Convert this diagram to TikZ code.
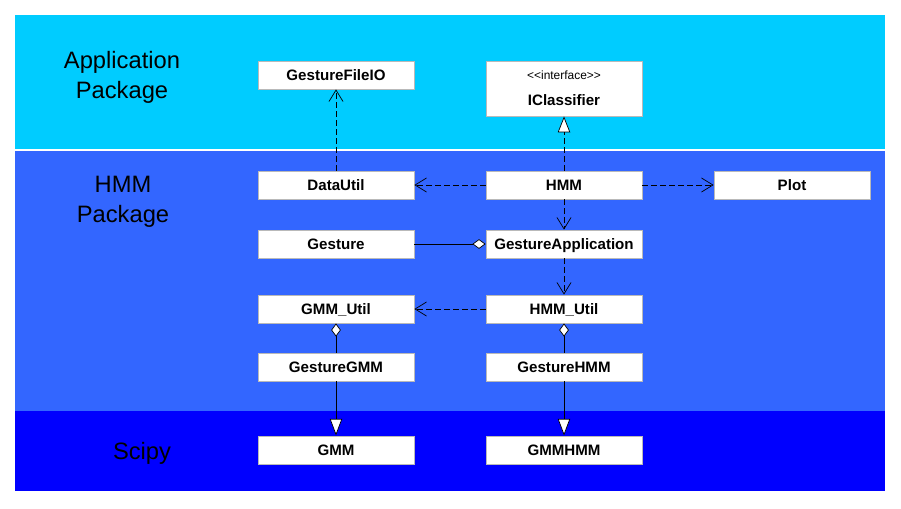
\documentclass[tikz,border=0pt]{standalone}
\usepackage{fontspec}
\setmainfont{Liberation Sans}
\usetikzlibrary{arrows.meta}
\definecolor{apppkg}{HTML}{00CCFF}
\definecolor{hmmpkg}{HTML}{3366FF}
\definecolor{scipypkg}{HTML}{0000FF}

\begin{document}
\begin{tikzpicture}[x=0.02cm,y=-0.02cm,
    cls/.style={fill=white,draw=gray!55,line width=0.5pt,inner sep=0pt,
      minimum width=3.12cm,minimum height=0.56cm,
      text height=6.2pt,text depth=0pt,
      font=\fontsize{8.6}{10}\selectfont\bfseries},
    pkg/.style={align=center,font=\fontsize{13.5}{17}\selectfont},
    dep/.style={dash pattern=on 3.4pt off 1.7pt,
      -{Straight Barb[length=6.5pt,width=8pt]}},
    real/.style={dash pattern=on 3.4pt off 1.7pt,
      -{Triangle[fill=white,length=9pt,width=7pt]}},
    inh/.style={-{Triangle[fill=white,length=9.5pt,width=7pt]}},
    agg/.style={{Diamond[fill=white,length=7.5pt,width=5.5pt]}-}]
    \useasboundingbox (0,0) rectangle (901,508);

    % package bands
    \fill[apppkg] (15,15) rectangle (885,149);
    \fill[hmmpkg] (15,151) rectangle (885,411);
    \fill[scipypkg] (15,411) rectangle (885,491);

    \path
    (122,77) node[pkg] (app) {Application\\Package}
    (123,202) node[pkg] (hmmpk) {HMM\\Package}
    (142,453) node[pkg] (scipy) {Scipy}
    ;

    \path
    (336,75) node[cls] (fileio) {GestureFileIO}
    (564,88.5) node[cls,minimum height=1.1cm,align=center,
      text height=,text depth=] (iclass)
      {{\fontsize{6.8}{8}\selectfont\mdseries
        <\kern0pt<interface>\kern0pt>}\\[5pt]IClassifier}
    (336,185) node[cls] (datautil) {DataUtil}
    (564,185) node[cls] (hmm) {HMM}
    (792,185) node[cls] (plot) {Plot}
    (336,244) node[cls] (gesture) {Gesture}
    (564,244) node[cls] (gapp) {GestureApplication}
    (336,309) node[cls] (gmmutil) {GMM\_Util}
    (564,309) node[cls] (hmmutil) {HMM\_Util}
    (336,367) node[cls] (ggmm) {GestureGMM}
    (564,367) node[cls] (ghmm) {GestureHMM}
    (336,450) node[cls] (gmm) {GMM}
    (564,450) node[cls] (gmmhmm) {GMMHMM}
    ;

    \draw[dep] (datautil) -- (fileio);
    \draw[real] (hmm) -- (iclass);
    \draw[dep] (hmm) -- (datautil);
    \draw[dep] (hmm) -- (plot);
    \draw[dep] (hmm) -- (gapp);
    \draw[dep] (gapp) -- (hmmutil);
    \draw[dep] (hmmutil) -- (gmmutil);
    \draw[agg] (gapp) -- (gesture);
    \draw[agg] (gmmutil) -- (ggmm);
    \draw[agg] (hmmutil) -- (ghmm);
    \draw[inh] (ggmm) -- (gmm);
    \draw[inh] (ghmm) -- (gmmhmm);
  \end{tikzpicture}
\end{document}
